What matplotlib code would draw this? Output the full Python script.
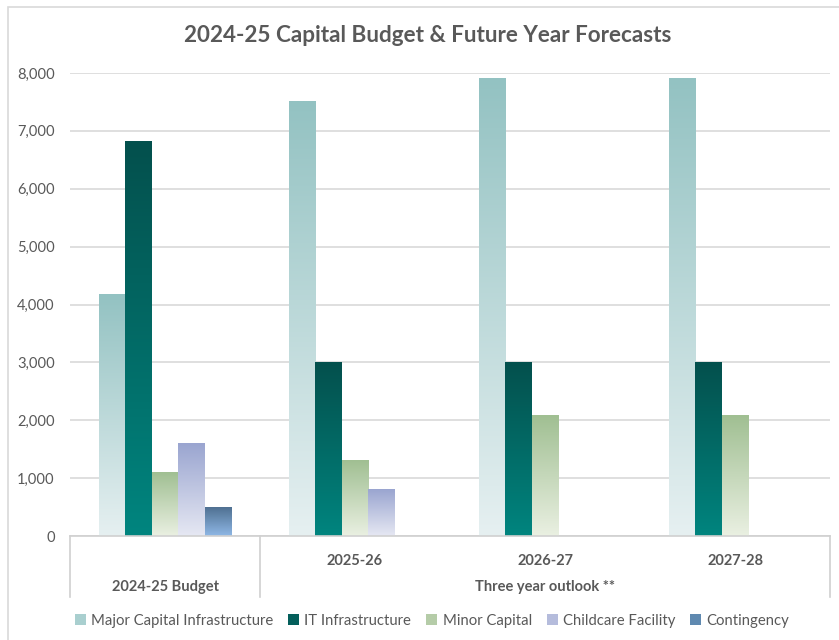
import numpy as np
import matplotlib.pyplot as plt
import matplotlib.transforms as mtransforms
from matplotlib.colors import LinearSegmentedColormap
from matplotlib.patches import Rectangle, Patch
from matplotlib.ticker import FuncFormatter

plt.rcParams['font.family'] = ['Lato', 'DejaVu Sans']

years = ["2024-25", "2025-26", "2026-27", "2027-28"]
year_labels = ["", "2025-26", "2026-27", "2027-28"]
period_labels = ["2024-25 Budget", "Three year outlook **"]

series = ["Major Capital Infrastructure", "IT Infrastructure", "Minor Capital",
          "Childcare Facility", "Contingency"]
major = [4180, 7500, 7900, 7900]
it_infra = [6820, 3000, 3000, 3000]
minor = [1100, 1300, 2080, 2080]
childcare = [1600, 800, 0, 0]
contingency = [500, 0, 0, 0]
values = [major, it_infra, minor, childcare, contingency]

# (top colour, bottom colour) for each series gradient
gradients = [("#93c2c2", "#e6f0f1"),
             ("#04504d", "#00857f"),
             ("#a0bf92", "#eaf0e2"),
             ("#9aa5d0", "#e6e8f3"),
             ("#4f7091", "#8fb8e6")]
legend_colors = ["#a9cfcf", "#045f5b", "#b5cca8", "#b5bcdc", "#5f89b0"]

grey = "#595959"
fig = plt.figure(figsize=(8.39, 6.4), dpi=100)
ax = fig.add_axes([70 / 839, 1 - 536 / 640, 760 / 839, 463 / 640])

# outer chart border
fig.patches.append(Rectangle((8 / 839, -0.1), 1.2, 1 - 7 / 640 + 0.1, transform=fig.transFigure,
                             fill=False, edgecolor="#d9d9d9", linewidth=1.2))

x = np.arange(len(years))
width = 0.139
n = len(series)
for i, (vals, (top, bottom)) in enumerate(zip(values, gradients)):
    cmap = LinearSegmentedColormap.from_list(series[i], [bottom, top])
    bars = ax.bar(x + (i - (n - 1) / 2) * width, vals, width, color="none", linewidth=0)
    for b in bars:
        h = b.get_height()
        if h <= 0:
            continue
        grad = np.linspace(0, 1, 256).reshape(-1, 1)
        ax.imshow(grad, cmap=cmap, origin="lower", aspect="auto",
                  extent=(b.get_x(), b.get_x() + b.get_width(), 0, h), zorder=2)

ax.set_xlim(-0.5, len(years) - 0.5)
ax.set_ylim(0, 8000)
ax.set_yticks(np.arange(0, 8001, 1000))
ax.yaxis.set_major_formatter(FuncFormatter(lambda v, p: f"{int(v):,}"))
ax.grid(axis="y", color="#d9d9d9", linewidth=1.2, zorder=0)
ax.set_axisbelow(True)
for s in ["top", "right", "left"]:
    ax.spines[s].set_visible(False)
ax.spines["bottom"].set_color("#d0d0d0")
ax.spines["bottom"].set_linewidth(1.2)
ax.tick_params(axis="y", length=0, pad=11, labelsize=10.6, labelcolor=grey)

# two-level category axis
ax.set_xticks(x)
ax.set_xticklabels(year_labels, fontsize=10.5, fontweight="bold", color=grey)
ax.tick_params(axis="x", length=0, pad=13)
trans = mtransforms.blended_transform_factory(ax.transData, ax.transAxes)
for xb in [-0.5, 0.5, len(years) - 0.5]:
    ax.plot([xb, xb], [0, -61 / 463], transform=trans, color="#d0d0d0",
            linewidth=1.2, clip_on=False)
ax.text(0, -51 / 463, period_labels[0], transform=trans, ha="center", va="center",
        fontsize=10.5, fontweight="bold", color=grey)
ax.text((1 + len(years) - 1) / 2, -51 / 463, period_labels[1], transform=trans,
        ha="center", va="center", fontsize=10.5, fontweight="bold", color=grey)

fig.text(428 / 839, 1 - 36 / 640, "2024-25 Capital Budget & Future Year Forecasts",
         ha="center", va="center", fontsize=16.2, fontweight="bold", color=grey)

handles = [Patch(facecolor=c, edgecolor="none") for c in legend_colors]
fig.legend(handles, series, loc="center", bbox_to_anchor=(432 / 839, 1 - 621 / 640),
           ncol=5, frameon=False, fontsize=10.7, labelcolor=grey,
           handlelength=0.75, handleheight=0.75, handletextpad=0.35, columnspacing=1.0)

fig.savefig("out.png", dpi=100)
